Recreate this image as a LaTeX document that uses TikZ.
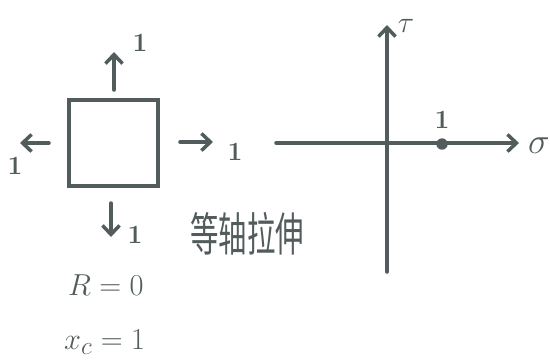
\documentclass[tikz,border=0pt]{standalone}
\usepackage{fontspec}
\newfontfamily\cjkfont{Noto Sans CJK SC}
\definecolor{inkgray}{RGB}{82,92,92}
\usepackage{tikz}
\usetikzlibrary{arrows.meta, positioning}

\begin{document}
\begin{tikzpicture}[
      x=0.02cm, y=-0.02cm,
      ink/.style={draw=inkgray, line width=2pt, line cap=round},
      load/.style={ink, -{Straight Barb[length=1.8mm, width=3.4mm, line width=2pt]}},
      num/.style={text=inkgray, font=\bfseries\fontsize{15}{16}\selectfont, inner sep=1pt},
      eq/.style={text=inkgray, font=\fontsize{19}{22}\selectfont, anchor=west, inner sep=1pt},
    ]
    \useasboundingbox (0,0) rectangle (550,359);

    % element under equal tension
    \node[ink, minimum width=1.78cm, minimum height=1.72cm, inner sep=0pt] (sq) at (113.5,143) {};
    \coordinate (upS) at (114,90);   \coordinate (upE) at (114,52);
    \coordinate (dnS) at (111,203);  \coordinate (dnE) at (111,237);
    \coordinate (ltS) at (49,143);   \coordinate (ltE) at (20,143);
    \coordinate (rtS) at (180,142);  \coordinate (rtE) at (213,142);
    \draw[load] (upS) -- (upE);
    \draw[load] (dnS) -- (dnE);
    \draw[load] (ltS) -- (ltE);
    \draw[load] (rtS) -- (rtE);
    \node[num] (nup) at (140,43) {1};
    \node[num] (ndn) at (135,235) {1};
    \node[num] (nlt) at (15,166) {1};
    \node[num] (nrt) at (235,152) {1};

    \node[text=inkgray, font=\cjkfont\fontsize{17}{20}\selectfont, yscale=1.55, xscale=0.95] (title) at (247,234) {等轴拉伸};
    \node[eq] (rzero) at (66,285) {$R=0$};
    \node[eq] (xc) at (62,342) {$x_c=1$};

    % Mohr plane
    \coordinate (hL) at (276,143);  \coordinate (hR) at (519,143);
    \coordinate (vB) at (387,272);  \coordinate (vT) at (387,25);
    \draw[load] (hL) -- (hR);
    \draw[load] (vB) -- (vT);
    \node[circle, fill=inkgray, inner sep=0pt, minimum size=6.5pt] (pt) at (442,144) {};
    \node[num, above=4pt of pt] (npt) {1};
    \node[text=inkgray, font=\fontsize{20}{22}\selectfont] (sig) at (539,146) {$\sigma$};
    \node[text=inkgray, font=\fontsize{18}{20}\selectfont] (tau) at (406,26) {$\tau$};
  \end{tikzpicture}
\end{document}
